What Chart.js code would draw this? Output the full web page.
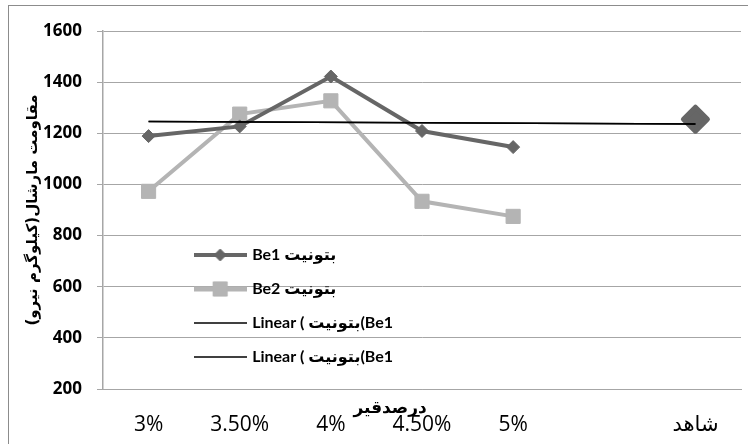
<!DOCTYPE html>
<html>
<head>
<meta charset="utf-8">
<script src="https://cdn.jsdelivr.net/npm/chart.js@4.4.1/dist/chart.umd.min.js"></script>
<style>
  html, body { margin: 0; padding: 0; background: #ffffff; overflow: hidden; }
  #frame { position: absolute; left: 8px; top: 5px; width: 780px; height: 480px;
           border: 1px solid #8c8c8c; box-sizing: border-box; }
  #chart { position: absolute; left: 0; top: 0; }
</style>
</head>
<body>
<div id="frame"></div>
<canvas id="chart" width="748" height="444"></canvas>
<script>
// Bitumen percentage categories (one empty slot before the control sample)
const categories = ['3%', '3.50%', '4%', '4.50%', '5%', '', 'شاهد'];

// Marshall stability (kgf)
const be1Values = [1189, 1227, 1422, 1209, 1146, null, 1255];
const be2Values = [973, 1275, 1327, 934, 875, null, null];
const trendValues = [1246, null, null, null, null, null, 1236];

// Value axis
const yMin = 200;
const yMax = 1600;
const yStep = 200;

// Labels
const seriesNames = ['Be1 بتونیت', 'Be2 بتونیت', 'Linear ( بتونیت(Be1', 'Linear ( بتونیت(Be1'];
const xTitle = 'درصدقیر';
const yTitle = 'مقاومت مارشال(کیلوگرم نیرو)';

const BE1 = '#666666';
const BE2 = '#b4b4b4';
const GRID = '#a6a6a6';

// Small legend sample: a line with the series marker in its middle
function legendSample(color, lineWidth, style, radius, borderWidth) {
  const c = document.createElement('canvas');
  c.width = 53; c.height = 18;
  const g = c.getContext('2d');
  g.strokeStyle = color;
  g.lineWidth = lineWidth;
  g.beginPath(); g.moveTo(0, 9); g.lineTo(53, 9); g.stroke();
  if (style) {
    g.fillStyle = color;
    g.lineWidth = borderWidth;
    Chart.helpers.drawPoint(g, { pointStyle: style, radius: radius, rotation: 0, borderWidth: borderWidth }, 26.5, 9);
  }
  return c;
}

const samples = [
  legendSample(BE1, 4, 'rectRot', 6, 1),
  legendSample(BE2, 5, 'rect', 10, 1),
  legendSample('#000000', 1.5, null),
  legendSample('#000000', 1.5, null)
];

// Rounded marker corners
const roundJoins = {
  id: 'roundJoins',
  beforeDatasetsDraw(chart) { chart.ctx.lineJoin = 'round'; }
};

// Legend sits inside the plot area
const legendPlacer = {
  id: 'legendPlacer',
  afterLayout(chart) {
    const lg = chart.legend;
    const a = chart.chartArea;
    const pad = chart.options.plugins.legend.labels.padding;
    const x0 = a.left + (a.right - a.left) * 0.146 - pad;
    const y0 = a.top + (a.bottom - a.top) * 0.553;
    const w = lg.width, h = lg.height;
    lg.left = x0; lg.top = y0; lg.right = x0 + w; lg.bottom = y0 + h;
  }
};

// Category axis title, drawn just under the axis line
const xTitlePlugin = {
  id: 'xTitlePlugin',
  afterDraw(chart) {
    const a = chart.chartArea;
    const ctx = chart.ctx;
    ctx.save();
    ctx.font = 'bold 17px "DejaVu Sans"';
    ctx.fillStyle = '#000000';
    ctx.textAlign = 'center';
    ctx.textBaseline = 'middle';
    ctx.fillText(xTitle, a.left + (a.right - a.left) * 0.45, a.bottom + 20);
    ctx.restore();
  }
};

new Chart(document.getElementById('chart'), {
  type: 'line',
  data: {
    labels: categories,
    datasets: [
      {
        label: seriesNames[0],
        data: be1Values,
        borderColor: BE1,
        backgroundColor: BE1,
        borderWidth: 4,
        pointStyle: 'rectRot',
        pointRadius: [6.5, 6.5, 6.5, 6.5, 6.5, 0, 12],
        pointBorderWidth: [1, 1, 1, 1, 1, 1, 5],
        pointBackgroundColor: BE1,
        pointBorderColor: BE1,
        spanGaps: false,
        order: 1
      },
      {
        label: seriesNames[1],
        data: be2Values,
        borderColor: BE2,
        backgroundColor: BE2,
        borderWidth: 4,
        pointStyle: 'rect',
        pointRadius: 10,
        pointBorderWidth: 1,
        pointBackgroundColor: BE2,
        pointBorderColor: BE2,
        spanGaps: false,
        order: 2
      },
      {
        label: seriesNames[2],
        data: trendValues,
        borderColor: '#000000',
        borderWidth: 1.5,
        pointRadius: 0,
        spanGaps: true,
        order: 0
      },
      {
        label: seriesNames[3],
        data: trendValues,
        borderColor: '#000000',
        borderWidth: 1.5,
        pointRadius: 0,
        spanGaps: true,
        order: 0
      }
    ]
  },
  options: {
    responsive: false,
    animation: false,
    events: [],
    layout: { autoPadding: false, padding: { top: 31, right: 7, left: 0, bottom: 0 } },
    scales: {
      x: {
        type: 'category',
        offset: true,
        grid: { display: false, drawTicks: true, tickLength: 23 },
        border: { display: true, color: GRID, width: 1 },
        ticks: {
          color: '#000000',
          font: { family: '"Open Sans", "DejaVu Sans"', size: 21 },
          padding: 0,
          maxRotation: 0,
          autoSkip: false
        },
        afterFit(scale) {
          scale.height = 55;
          scale.paddingLeft = 0;
          scale.paddingRight = 0;
        }
      },
      y: {
        min: yMin,
        max: yMax,
        grid: { color: GRID, lineWidth: 1, tickLength: 6 },
        border: { display: true, color: GRID, width: 1.5 },
        ticks: {
          stepSize: yStep,
          color: '#000000',
          font: { family: '"Open Sans"', size: 17, weight: 'bold' },
          padding: 15,
          callback: (v) => String(v)
        },
        title: {
          display: true,
          text: yTitle,
          color: '#000000',
          font: { family: '"DejaVu Sans"', size: 15, weight: 'bold' },
          padding: { top: 24, bottom: 0 }
        },
        afterFit(scale) { scale.width = 103; }
      }
    },
    plugins: {
      tooltip: { enabled: false },
      legend: {
        display: true,
        position: 'chartArea',
        align: 'start',
        labels: {
          usePointStyle: true,
          pointStyleWidth: 48,
          padding: 18,
          color: '#000000',
          font: { family: 'Lato, "DejaVu Sans"', size: 16, weight: 'bold' },
          generateLabels(chart) {
            return chart.data.datasets.map((ds, i) => ({
              text: ds.label,
              fillStyle: ds.borderColor,
              strokeStyle: ds.borderColor,
              lineWidth: 0,
              pointStyle: samples[i],
              hidden: false,
              datasetIndex: i,
              fontColor: '#000000'
            }));
          }
        }
      }
    }
  },
  plugins: [roundJoins, legendPlacer, xTitlePlugin]
});
</script>
</body>
</html>
